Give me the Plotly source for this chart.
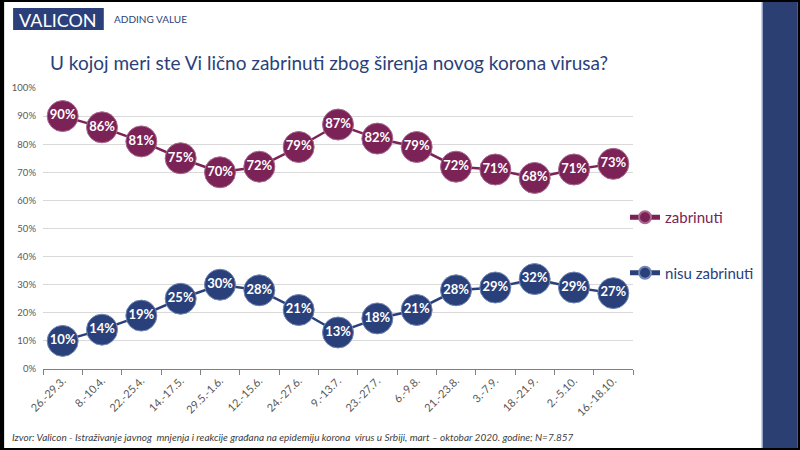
import plotly.graph_objects as go

categories = ["26.-29.3.", "8.-10.4.", "22.-25.4.", "14.-17.5.", "29.5.-1.6.", "12.-15.6.",
              "24.-27.6.", "9.-13.7.", "23.-27.7.", "6.-9.8.", "21.-23.8.", "3.-7.9.",
              "18.-21.9.", "2.-5.10.", "16.-18.10."]
zabrinuti = [90, 86, 81, 75, 70, 72, 79, 87, 82, 79, 72, 71, 68, 71, 73]
nisu_zabrinuti = [10, 14, 19, 25, 30, 28, 21, 13, 18, 21, 28, 29, 32, 29, 27]
y_ticks = [0, 10, 20, 30, 40, 50, 60, 70, 80, 90, 100]

MAROON = "#7b2257"
NAVY = "#2a407a"
FONT = "Lato"

# plot area in pixels
L, R, T, B = 41, 633, 88, 369
W, H = 800, 450

def px(x):
    return (x - L) / (R - L)

def py(y):
    return (B - y) / (B - T)

fig = go.Figure()
fig.add_trace(go.Scatter(
    x=categories, y=zabrinuti, mode="lines+markers+text",
    name='<span style="color:%s">zabrinuti</span>' % MAROON,
    legendgroup="a",
    line=dict(color=MAROON, width=2.5),
    marker=dict(size=31, color=MAROON, line=dict(color="#a86a8e", width=1)),
    text=[f"{v}%" for v in zabrinuti], textposition="middle center",
    textfont=dict(color="white", size=13, family=FONT, weight="bold"),
    cliponaxis=False, hoverinfo="skip"))
fig.add_trace(go.Scatter(
    x=categories, y=nisu_zabrinuti, mode="lines+markers+text",
    name='<span style="color:%s">nisu zabrinuti</span>' % NAVY,
    legendgroup="b",
    line=dict(color=NAVY, width=2.5),
    marker=dict(size=31, color=NAVY, line=dict(color="#7387b5", width=1)),
    text=[f"{v}%" for v in nisu_zabrinuti], textposition="middle center",
    textfont=dict(color="white", size=13, family=FONT, weight="bold"),
    cliponaxis=False, hoverinfo="skip"))

shapes = [
    dict(type="rect", xref="paper", yref="paper", x0=px(2), x1=px(798), y0=py(448), y1=py(2),
         fillcolor="white", line=dict(width=0), layer="below"),
    dict(type="rect", xref="paper", yref="paper", x0=px(763), x1=px(798), y0=py(448), y1=py(2),
         fillcolor="#2b3f73", line=dict(width=0), layer="below"),
    dict(type="line", xref="paper", yref="paper", x0=px(762.5), x1=px(762.5), y0=py(448), y1=py(2),
         line=dict(color="#8a9cc4", width=1), layer="below"),
    dict(type="rect", xref="paper", yref="paper", x0=px(11), x1=px(102), y0=py(30), y1=py(8),
         fillcolor="#2b3f7a", line=dict(width=0), layer="below"),
]

annotations = [
    dict(text="VALICON", xref="paper", yref="paper", x=px(56.5), y=py(19.5), showarrow=False,
         xanchor="center", yanchor="middle", font=dict(family=FONT, size=18, color="white")),
    dict(text="ADDING VALUE", xref="paper", yref="paper", x=px(110), y=py(19), showarrow=False,
         xanchor="left", yanchor="middle", font=dict(family=FONT, size=10, color="#2b3f7a")),
    dict(text="U kojoj meri ste Vi lično zabrinuti zbog širenja novog korona virusa?",
         xref="paper", yref="paper", x=px(328), y=py(63), showarrow=False,
         xanchor="center", yanchor="middle", font=dict(family=FONT, size=19, color="#2b3f7a")),
    dict(text="<i>Izvor: Valicon - Istraživanje javnog  mnjenja i reakcije građana na epidemiju korona  virus u Srbiji, mart – oktobar 2020. godine; N=7.857</i>",
         xref="paper", yref="paper", x=px(8), y=py(437), showarrow=False,
         xanchor="left", yanchor="middle", font=dict(family=FONT, size=10, color="#404040")),
]

fig.update_layout(
    width=W, height=H,
    margin=dict(l=L, r=W - R, t=T, b=H - B, pad=0),
    paper_bgcolor="black", plot_bgcolor="rgba(0,0,0,0)",
    shapes=shapes, annotations=annotations,
    showlegend=True,
    legend=dict(x=px(625), y=py(201), xanchor="left", yanchor="top",
                bgcolor="rgba(0,0,0,0)", font=dict(family=FONT, size=15),
                itemsizing="constant", tracegroupgap=33, traceorder="grouped",
                itemwidth=30),
    xaxis=dict(type="category", range=[-0.5, len(categories) - 0.5], tickangle=-45,
               tickson="boundaries", ticks="outside", ticklen=5, tickcolor="#7f7f7f",
               showline=True, linecolor="#7f7f7f", linewidth=1, showgrid=False,
               tickfont=dict(family=FONT, size=11, color="#595959")),
    yaxis=dict(range=[0, 100], tickvals=y_ticks, ticktext=[f"{v}%" for v in y_ticks],
               showgrid=True, gridcolor="#d9d9d9", gridwidth=1, zeroline=False,
               showline=False, ticks="", ticklabelstandoff=6,
               tickfont=dict(family=FONT, size=9.5, color="#595959")),
)

fig.write_html("out.html")
